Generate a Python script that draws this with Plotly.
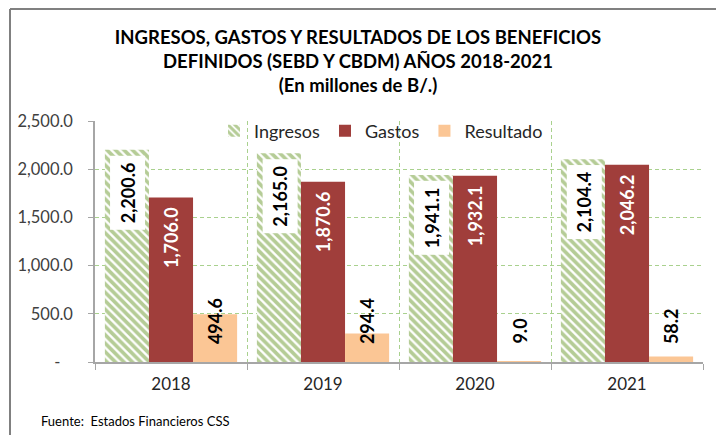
import plotly.graph_objects as go

years = ["2018", "2019", "2020", "2021"]
ingresos = [2200.6, 2165.0, 1941.1, 2104.4]
gastos = [1706.0, 1870.6, 1932.1, 2046.2]
resultado = [494.6, 294.4, 9.0, 58.2]
ytickvals = [0, 500, 1000, 1500, 2000, 2500]
yticktext = ["-\u00a0\u00a0\u00a0", "500.0", "1,000.0", "1,500.0", "2,000.0", "2,500.0"]

W, H = 716, 435
L, R, T, B = 95, 13, 121, 73
FONT = "Lato"
GREEN = "#6C9A2E"
RED = "#A03E3B"
PEACH = "#FBC695"
GRID = "#A9D18E"

fig = go.Figure()
fig.add_trace(go.Bar(
    x=years, y=ingresos, name="Ingresos",
    marker=dict(color="white", line=dict(width=0),
                pattern=dict(shape="\\", fgcolor=GREEN, bgcolor="white", size=6, solidity=0.62)),
))
fig.add_trace(go.Bar(x=years, y=gastos, name="Gastos", marker=dict(color=RED, line=dict(width=0))))
fig.add_trace(go.Bar(x=years, y=resultado, name="Resultado", marker=dict(color=PEACH, line=dict(width=0))))

BARGAP = 0.13
bw = (1 - BARGAP) / 3

def fmt(v):
    return f"{v:,.1f}"

ann = []
for i, v in enumerate(ingresos):
    ann.append(dict(x=i - bw, y=v, xref="x", yref="y", text="<b>" + fmt(v) + "</b>",
                    textangle=-90, showarrow=False, yanchor="top", xanchor="center",
                    yshift=-5, xshift=1, bgcolor="white", borderpad=6,
                    font=dict(family=FONT, size=18, color="black")))
for i, v in enumerate(gastos):
    ann.append(dict(x=i, y=v, xref="x", yref="y", text="<b>" + fmt(v) + "</b>",
                    textangle=-90, showarrow=False, yanchor="top", xanchor="center",
                    yshift=-8, font=dict(family=FONT, size=18, color="white")))
for i, v in enumerate(resultado):
    ann.append(dict(x=i + bw, y=0, xref="x", yref="y", text="<b>" + fmt(v) + "</b>",
                    textangle=-90, showarrow=False, yanchor="bottom", xanchor="center",
                    yshift=16, font=dict(family=FONT, size=18, color="black")))

pw = W - L - R
ph = H - T - B
def px_x(p):
    return (p - L) / pw
def px_y(p):
    return (H - B - p) / ph

ann.append(dict(xref="paper", yref="paper", x=px_x(39), y=px_y(421), xanchor="left", yanchor="middle",
                text="Fuente:  Estados Financieros CSS", showarrow=False,
                font=dict(family=FONT, size=13, color="black")))

shapes = [
    dict(type="line", xref="paper", yref="paper", x0=px_x(10), x1=px_x(716), y0=px_y(9), y1=px_y(9),
         line=dict(color="#808080", width=2), layer="above"),
    dict(type="line", xref="paper", yref="paper", x0=px_x(10), x1=px_x(10), y0=px_y(9), y1=px_y(435),
         line=dict(color="#808080", width=2), layer="above"),
]

fig.update_layout(
    width=W, height=H,
    margin=dict(l=L, r=R, t=T, b=B, autoexpand=False),
    paper_bgcolor="white", plot_bgcolor="white",
    barmode="group", bargap=BARGAP, bargroupgap=0,
    font=dict(family=FONT, color="#404040"),
    title=dict(text="<b>INGRESOS, GASTOS Y RESULTADOS DE LOS BENEFICIOS<br>DEFINIDOS (SEBD Y CBDM) AÑOS 2018-2021<br>(En millones de B/.)</b>",
               x=0.5, xref="container", xanchor="center", y=1 - 44 / H, yanchor="top",
               font=dict(family=FONT, size=18.5, color="black")),
    legend=dict(orientation="h", x=px_x(214), y=px_y(131), xanchor="left", yanchor="middle",
                bgcolor="rgba(0,0,0,0)", font=dict(family=FONT, size=18, color="#262626"),
                itemwidth=30, tracegroupgap=0),
    xaxis=dict(type="category", tickson="boundaries", showgrid=True, gridcolor=GRID, griddash="4px,3px",
               gridwidth=1, showline=True, linecolor="#A6A6A6", linewidth=1.5,
               ticks="outside", ticklen=6, tickcolor="#A6A6A6",
               tickfont=dict(family=FONT, size=17, color="#262626"), ticklabelstandoff=6),
    yaxis=dict(range=[0, 2500], tickvals=ytickvals, ticktext=yticktext, showgrid=True,
               gridcolor=GRID, griddash="4px,3px", gridwidth=1, zeroline=False,
               showline=True, linecolor="#A6A6A6", linewidth=1.5,
               ticks="outside", ticklen=5, tickcolor="#A6A6A6",
               tickfont=dict(family=FONT, size=16.5, color="#404040"), ticklabelstandoff=12),
    annotations=ann, shapes=shapes,
)

fig.write_html("out.html", config={"displayModeBar": False})

# remove the default browser body margin so the figure sits at the window origin
with open("out.html", "r", encoding="utf-8") as f:
    html = f.read()
html = html.replace("<head>", "<head><style>html,body{margin:0;padding:0;overflow:hidden;}</style>", 1)
with open("out.html", "w", encoding="utf-8") as f:
    f.write(html)
